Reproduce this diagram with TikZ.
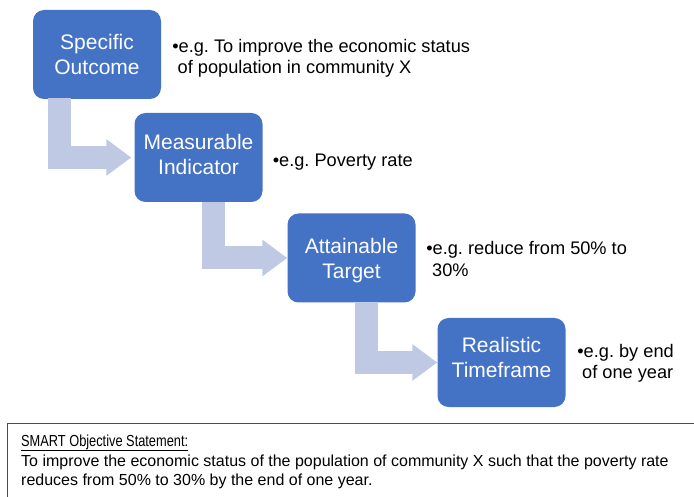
\documentclass[tikz,border=0pt]{standalone}
\usepackage{fontspec}
\setmainfont{Liberation Sans}
\usetikzlibrary{arrows.meta,calc}
\definecolor{boxblue}{HTML}{4472C4}
\definecolor{flowblue}{HTML}{BFC9E4}
\definecolor{framegray}{HTML}{4D4D4D}
\frenchspacing
\begin{document}
\begin{tikzpicture}[x=1pt,y=-1pt,
  stage/.style={fill=boxblue, rounded corners=11pt, minimum width=128pt,
    minimum height=89pt, inner sep=0pt},
  stagetext/.style={inner sep=0pt, text=white, align=center,
    font=\fontsize{21}{25}\selectfont},
  flow/.style={draw=flowblue, line width=23pt, line join=miter, line cap=butt,
    -{Triangle[length=25pt,width=35pt]}},
  note/.style={anchor=base west, inner sep=0pt, font=\fontsize{18.2}{22}\selectfont},
  stmt/.style={anchor=base west, inner sep=0pt, font=\fontsize{16}{19}\selectfont},
]
\useasboundingbox (0,0) rectangle (694,497);

% the four SMART stages
\node[stage, label={[stagetext]center:Specific\\Outcome}] (s) at (97,54.5) {};
\node[stage, label={[stagetext, yshift=3pt]center:Measurable\\Indicator}] (m) at (198.5,157.5) {};
\node[stage, label={[stagetext, yshift=-3pt]center:Attainable\\Target}] (a) at (351.5,258) {};
\node[stage, label={[stagetext, yshift=5pt]center:Realistic\\Timeframe}] (r) at (501.5,362.5) {};

% elbow arrows between the stages
\draw[flow, shorten <=-1pt, shorten >=3pt] ([xshift=27pt]s.south west) |- (m.west);
\draw[flow] ([xshift=79pt]m.south west) |- (a.west);
\draw[flow] ([xshift=79.5pt]a.south west) |- (r.west);

% examples beside each stage
\node[note] (n1) at (178.5,53) {\llap{•}e.g. To improve the economic status};
\node[note] (n1b) at (177.5,74) {of population in community X};
\node[note] (n2) at (279,167) {\llap{•}e.g. Poverty rate};
\node[note] (n3) at (432.5,255) {\llap{•}e.g. reduce from 50\% to};
\node[note] (n3b) at (432,277) {30\%};
\node[note] (n4) at (583.5,357) {\llap{•}e.g. by end};
\node[note] (n4b) at (582,378) {of one year};

% objective statement frame
\draw[framegray, line width=1pt] (7,510) -- (7,423) -- (700,423);
\node[stmt] (hd) at (21,446) {\scalebox{0.8}[1]{SMART Objective Statement:}};
\draw[line width=1.8pt] ([yshift=-4.5pt]hd.base west) -- ([yshift=-4.5pt]hd.base east);
\node[stmt] (l1) at (21,466) {To improve the economic status of the population of community X such that the poverty rate};
\node[stmt] (l2) at (21,485) {reduces from 50\% to 30\% by the end of one year.};
\end{tikzpicture}
\end{document}
